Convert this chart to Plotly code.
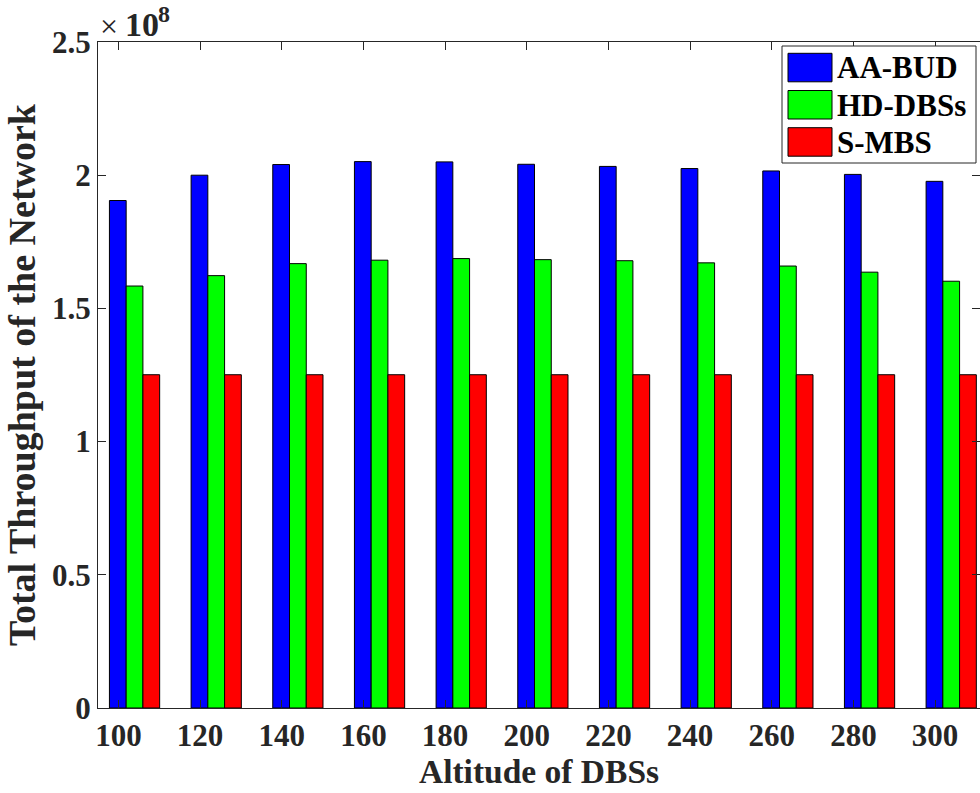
import plotly.graph_objects as go

# ---- data (throughput in units of 1e8) ----
altitudes = [100, 120, 140, 160, 180, 200, 220, 240, 260, 280, 300]
aa_bud = [1.905, 2.000, 2.040, 2.051, 2.050, 2.041, 2.033, 2.025, 2.016, 2.003, 1.977]
hd_dbss = [1.584, 1.623, 1.668, 1.681, 1.687, 1.683, 1.679, 1.671, 1.659, 1.636, 1.602]
s_mbs = [1.251, 1.251, 1.251, 1.251, 1.251, 1.251, 1.251, 1.251, 1.251, 1.251, 1.251]
series_names = ["AA-BUD", "HD-DBSs", "S-MBS"]
series_values = [aa_bud, hd_dbss, s_mbs]
series_colors = ["#0000FF", "#00FF00", "#FF0000"]
y_ticks = [0, 0.5, 1, 1.5, 2, 2.5]

# ---- layout constants (pixels) ----
W, H = 980, 793
ML, MR, MT, MB = 98, 0, 42, 85
PW, PH = W - ML - MR, H - MT - MB
FONT = "Liberation Serif, Times New Roman, serif"
TXT = "#262626"
bar_width = 4.1
bar_offsets = [-2.2, 1.9, 6.0]

fig = go.Figure()
for name, vals, col, off in zip(series_names, series_values, series_colors, bar_offsets):
    fig.add_trace(go.Bar(
        x=altitudes, y=vals, name=name, marker=dict(color=col, line=dict(color="black", width=1)),
        width=bar_width, offset=off, showlegend=False,
    ))

def px_x(p):
    return (p - ML) / PW

def px_y(p):
    return (H - MB - p) / PH

# manual MATLAB-like legend
shapes = [dict(type="rect", xref="paper", yref="paper",
               x0=px_x(782), x1=px_x(976), y0=px_y(163), y1=px_y(46),
               line=dict(color="#262626", width=1), fillcolor="white", layer="above")]
annotations = []
for i, (name, col) in enumerate(zip(series_names, series_colors)):
    top = 53.3 + i * 37.2
    shapes.append(dict(type="rect", xref="paper", yref="paper",
                       x0=px_x(788), x1=px_x(832), y0=px_y(top + 28.5), y1=px_y(top),
                       line=dict(color="black", width=1), fillcolor=col, layer="above"))
    annotations.append(dict(xref="paper", yref="paper", x=px_x(835), y=px_y(top + 14.5),
                            xanchor="left", yanchor="middle", text="<b>%s</b>" % name,
                            showarrow=False, font=dict(family=FONT, size=31, color="black")))

# exponent label  x10^8
for txt, xl, yc, sz in [("\u00d7", 99, 26, 32), ("<b>10</b>", 124, 24, 34), ("<b>8</b>", 157, 14, 24)]:
    annotations.append(dict(xref="paper", yref="paper", x=px_x(xl), y=px_y(yc),
                            xanchor="left", yanchor="middle", text=txt, showarrow=False,
                            borderpad=0, font=dict(family=FONT, size=sz, color=TXT)))

axis_common = dict(showline=True, linecolor="#262626", linewidth=1, mirror="allticks",
                   ticks="inside", ticklen=8, tickcolor="#262626", showgrid=False, zeroline=False,
                   tickfont=dict(family=FONT, size=31, color=TXT))

fig.update_layout(
    width=W, height=H, margin=dict(l=ML, r=MR, t=MT, b=MB),
    paper_bgcolor="white", plot_bgcolor="white", barmode="overlay",
    xaxis=dict(range=[95, 311], tickvals=altitudes,
               title=dict(text="<b>Altitude of DBSs</b>", font=dict(family=FONT, size=33.5, color=TXT), standoff=2),
               **axis_common),
    yaxis=dict(range=[0, 2.5], tickvals=y_ticks, ticktext=["<b>%g</b>" % v for v in y_ticks],
               title=dict(text="<b>Total Throughput of the Network</b>", font=dict(family=FONT, size=38, color=TXT), standoff=4),
               **axis_common),
    shapes=shapes, annotations=annotations,
)
fig.update_xaxes(ticktext=["<b>%d</b>" % a for a in altitudes])

fig.write_html("out.html")
